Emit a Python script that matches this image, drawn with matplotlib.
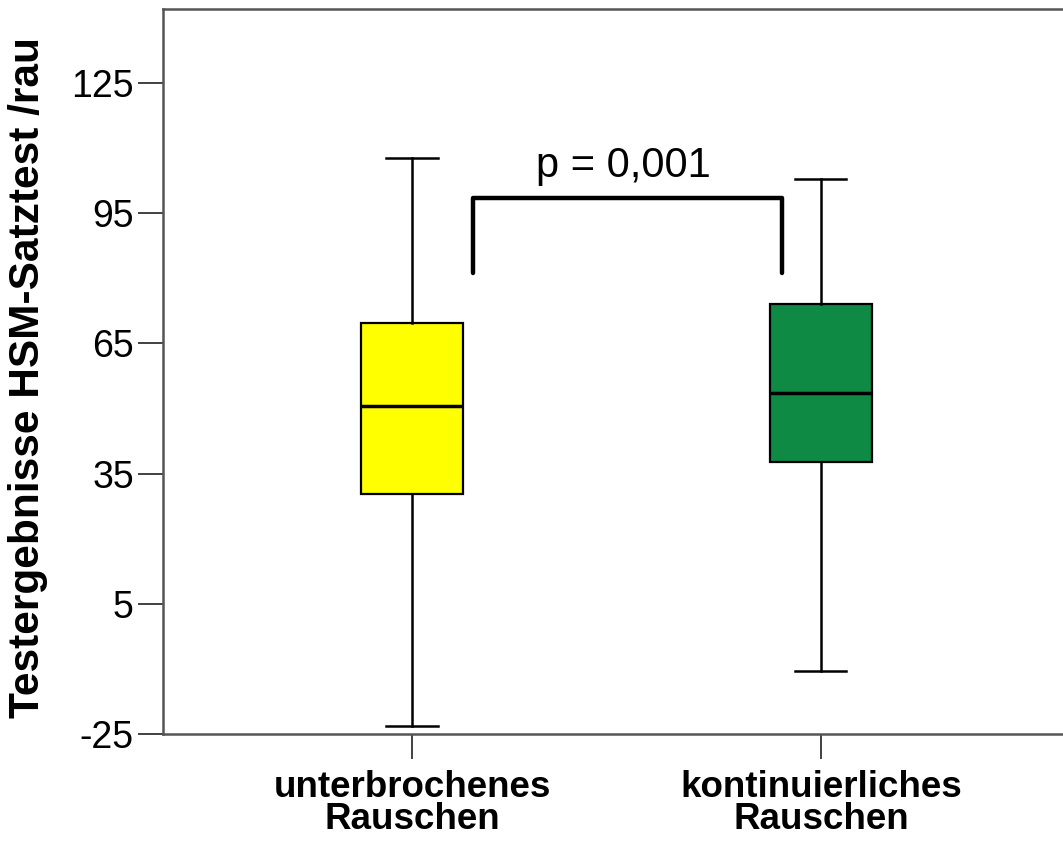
import matplotlib
matplotlib.use("Agg")
import matplotlib.pyplot as plt

# Data
categories = ["unterbrochenes\nRauschen", "kontinuierliches\nRauschen"]
whisker_low = [-23.2, -10.4]
q1 = [30.2, 37.7]
median = [50.5, 53.5]
q3 = [69.7, 74.0]
whisker_high = [107.7, 102.8]
colors = ["#FFFF00", "#0F8A45"]
yticks = [-25, 5, 35, 65, 95, 125]
p_text = "p = 0,001"
bracket_top = 98.4
bracket_bottom = 81.2

plt.rcParams['font.family'] = ['Liberation Sans', 'DejaVu Sans']

fig = plt.figure(figsize=(10.63, 8.41), dpi=100)
ax = fig.add_axes([163/1063, 1-734/841, 1-163/1063, (734-9)/841])

stats = []
for i in range(len(categories)):
    stats.append(dict(whislo=whisker_low[i], q1=q1[i], med=median[i], q3=q3[i],
                      whishi=whisker_high[i], fliers=[], label=categories[i]))

positions = [1, 2]
bp = ax.bxp(stats, positions=positions, widths=0.25, patch_artist=True,
            showfliers=False,
            boxprops=dict(edgecolor="black", linewidth=1.6),
            medianprops=dict(color="black", linewidth=2.5),
            whiskerprops=dict(color="black", linewidth=1.8),
            capprops=dict(color="black", linewidth=1.8))
for patch, c in zip(bp['boxes'], colors):
    patch.set_facecolor(c)

# significance bracket
x1 = positions[0] + 0.149
x2 = positions[1] - 0.095
ax.plot([x1, x1, x2, x2], [bracket_bottom, bracket_top, bracket_top, bracket_bottom],
        color="black", linewidth=3.2, solid_joinstyle="round", solid_capstyle="round")
ax.text((x1 + x2) / 2 - 0.01, bracket_top + 2.8, p_text, ha="center", va="bottom",
        fontsize=30, color="black")

ax.set_xlim(0.391, 2.592)
ax.set_ylim(-25, 142)
ax.set_yticks(yticks)
ax.set_yticklabels([str(t) for t in yticks], fontsize=27)
ax.set_xticks(positions)
ax.set_xticklabels(categories, fontsize=26.5, fontweight="bold", linespacing=0.88)

ax.set_ylabel("Testergebnisse HSM-Satztest /rau", fontsize=30.5, fontweight="bold")
ax.yaxis.set_label_coords(-(163 - 48) / 900, 0.492)

for s in ["left", "bottom", "top"]:
    ax.spines[s].set_color("#555555")
    ax.spines[s].set_linewidth(1.8)
ax.spines["right"].set_visible(False)

ax.tick_params(axis="y", length=18, width=1.3, color="#333333", pad=3)
ax.tick_params(axis="x", length=18, width=1.3, color="#333333", pad=8)

fig.savefig("out.png", dpi=100)
